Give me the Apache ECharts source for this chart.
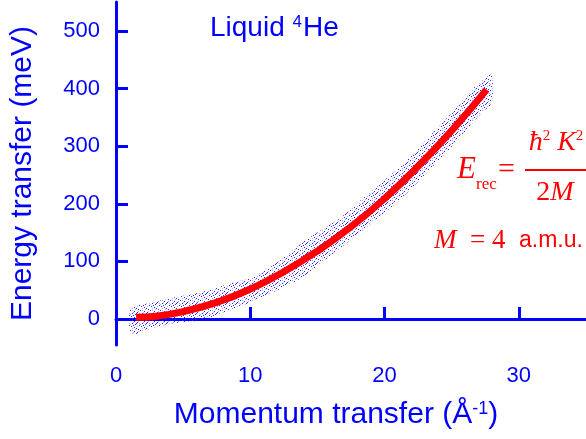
<!DOCTYPE html>
<html>
<head>
<meta charset="utf-8">
<script src="https://cdn.jsdelivr.net/npm/echarts@6.0.0/dist/echarts.min.js"></script>
<style>
html,body{margin:0;padding:0;background:#fff;}
#chart{width:586px;height:439px;}
</style>
</head>
<body>
<div id="chart"></div>
<script>
// Recoil curve: momentum transfer K (1/Å) vs energy (meV)
const K_CURVE = [1.5, 3, 5, 7.5, 10, 12.5, 15, 17.5, 20, 22.5, 25, 27.6];
const E_CURVE = [3, 5, 13, 29, 52, 82, 118, 160, 209, 265, 327, 398];

// Extent of the scattered measured points (lower and upper edge of the cloud)
const K_BAND = [1, 1.5, 2.6, 4, 6.4, 8.6, 10.1, 12, 13.8, 16.8, 19, 21.3, 25, 27, 28];
const BAND_HIGH = [16, 24, 28, 36, 47, 62, 72, 98, 132, 177, 222, 267, 358, 410, 425];
const BAND_LOW = [-22, -26, -16, -8, -2, 16, 30, 50, 71, 125, 165, 210, 299, 352, 375];

// Tick labels
const Y_TICKS = [0, 100, 200, 300, 400, 500];
const X_TICKS = [0, 10, 20, 30];

const BLUE = '#0000ff';
const RED = '#ff0000';

// speckle texture for the data cloud
const tile = document.createElement('canvas');
tile.width = 10; tile.height = 10;
const tctx = tile.getContext('2d');
tctx.fillStyle = 'rgba(0,0,255,0.85)';
[[0,0],[4,1],[7,2],[2,3],[5,4],[9,5],[1,6],[4,7],[6,8],[3,5],[8,9],[6,3]].forEach(p => tctx.fillRect(p[0], p[1], 1, 1));
tctx.fillStyle = 'rgba(90,90,255,0.5)';
[[2,0],[8,1],[0,4],[7,6],[2,8],[5,9],[9,3],[3,2]].forEach(p => tctx.fillRect(p[0], p[1], 1, 1));

const chart = echarts.init(document.getElementById('chart'), null, {renderer: 'canvas'});

const bandData = K_BAND.map((k, i) => [k, BAND_LOW[i], BAND_HIGH[i]]);
const curve = K_CURVE.map((k, i) => [k, E_CURVE[i]]);

const sans = 'Liberation Sans';
const serif = 'Liberation Serif';

function renderBand(params, api) {
  if (params.dataIndex !== 0) return null;
  const upper = bandData.map(d => api.coord([d[0], d[2]]));
  const lower = bandData.slice().reverse().map(d => api.coord([d[0], d[1]]));
  return {
    type: 'polygon',
    shape: {points: upper.concat(lower), smooth: 0.15},
    style: {fill: {image: tile, repeat: 'repeat'}, stroke: null},
    silent: true
  };
}

chart.setOption({
  animation: false,
  grid: {left: 115, right: 0, top: 2, bottom: 94},
  xAxis: {
    type: 'value', min: 0, max: 35,
    axisLine: {lineStyle: {color: BLUE, width: 3}},
    axisTick: {inside: true, length: 12, lineStyle: {color: BLUE, width: 3}, customValues: X_TICKS},
    axisLabel: {color: BLUE, fontFamily: sans, fontSize: 22, margin: 20, customValues: X_TICKS},
    splitLine: {show: false}
  },
  yAxis: {
    type: 'value', min: -45, max: 550,
    name: 'Energy transfer (meV)', nameLocation: 'middle', nameGap: 78,
    nameTextStyle: {color: BLUE, fontFamily: sans, fontSize: 30},
    axisLine: {lineStyle: {color: BLUE, width: 3}},
    axisTick: {inside: true, length: 12, lineStyle: {color: BLUE, width: 3}, customValues: Y_TICKS},
    axisLabel: {color: BLUE, fontFamily: sans, fontSize: 22, margin: 16, customValues: Y_TICKS},
    splitLine: {show: false}
  },
  series: [
    {
      type: 'custom', data: bandData, renderItem: renderBand, silent: true,
      encode: {x: 0, y: [1, 2]}, clip: true
    },
    {
      type: 'line', data: curve, symbol: 'none', smooth: true,
      lineStyle: {color: RED, width: 7, cap: 'butt'}, z: 5
    }
  ],
  graphic: [
    {
      type: 'text', left: 210, top: 14,
      style: {
        text: '{a|Liquid }{s|4}{a|He}',
        rich: {
          a: {fontFamily: sans, fontSize: 28, fill: BLUE},
          s: {fontFamily: sans, fontSize: 17, fill: BLUE, verticalAlign: 'top', padding: [0, 1, 10, 0]}
        }
      }
    },
    {
      type: 'text', x: 336, y: 415,
      style: {
        text: '{a|Momentum transfer (Å}{s|-1}{a|)}', align: 'center', verticalAlign: 'middle',
        rich: {
          a: {fontFamily: sans, fontSize: 30, fill: BLUE},
          s: {fontFamily: sans, fontSize: 18, fill: BLUE, verticalAlign: 'top', padding: [0, 0, 12, 0]}
        }
      }
    },
    // E_rec = ħ²K² / 2M
    {type: 'text', x: 457, y: 170, style: {text: 'E', font: 'italic 31px ' + serif, fill: RED, verticalAlign: 'middle'}},
    {type: 'text', x: 476, y: 185, style: {text: 'rec', font: '17px ' + serif, fill: RED, verticalAlign: 'middle'}},
    {type: 'text', x: 498, y: 170, style: {text: '=', font: '30px ' + serif, fill: RED, verticalAlign: 'middle'}},
    {type: 'line', shape: {x1: 525, y1: 170, x2: 586, y2: 170}, style: {stroke: RED, lineWidth: 2}},
    {
      type: 'text', x: 556, y: 143,
      style: {
        text: '{i|ħ}{s|2}{i| K}{s|2}', align: 'center', verticalAlign: 'middle',
        rich: {
          i: {fontFamily: serif, fontStyle: 'italic', fontSize: 28, fill: RED},
          s: {fontFamily: serif, fontSize: 15, fill: RED, verticalAlign: 'top', padding: [0, 0, 10, 0]}
        }
      }
    },
    {
      type: 'text', x: 555, y: 193,
      style: {
        text: '{n|2}{i|M}', align: 'center', verticalAlign: 'middle',
        rich: {
          n: {fontFamily: serif, fontSize: 28, fill: RED},
          i: {fontFamily: serif, fontStyle: 'italic', fontSize: 28, fill: RED}
        }
      }
    },
    {
      type: 'text', x: 434, y: 241,
      style: {
        text: '{i|M}{n|  = 4  }{a|a.m.u.}', verticalAlign: 'middle',
        rich: {
          i: {fontFamily: serif, fontStyle: 'italic', fontSize: 27, fill: RED},
          n: {fontFamily: serif, fontSize: 27, fill: RED},
          a: {fontFamily: sans, fontSize: 23, fill: RED}
        }
      }
    }
  ]
});
</script>
</body>
</html>
